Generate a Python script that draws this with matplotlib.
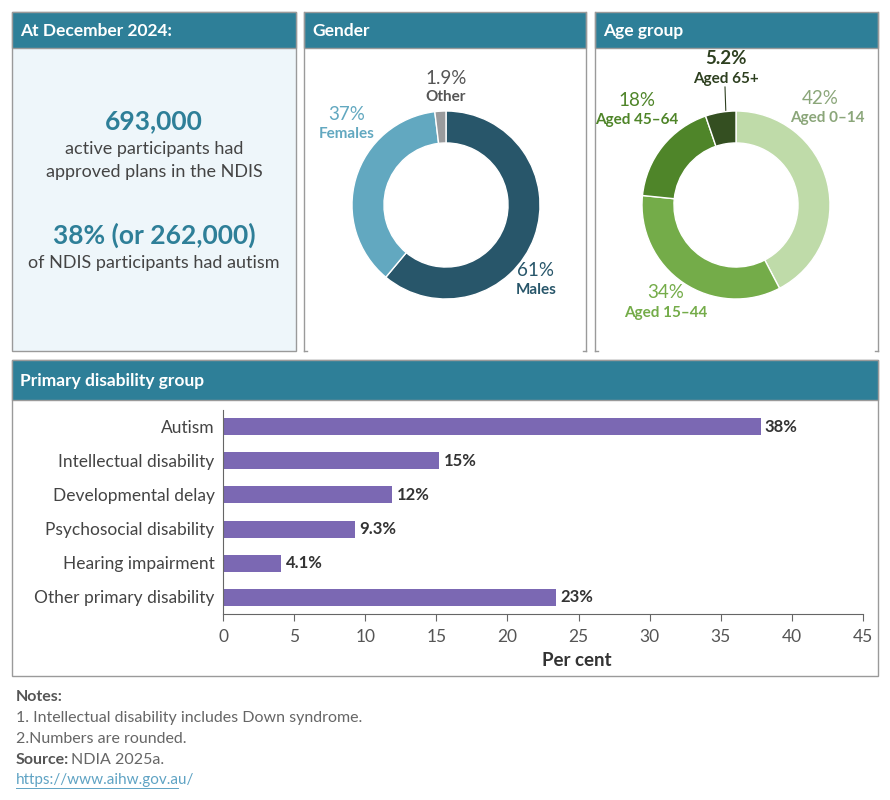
import matplotlib.pyplot as plt
from matplotlib.patches import Rectangle
import numpy as np

plt.rcParams['font.family'] = ['Lato', 'DejaVu Sans']

W, H = 890, 800

# data
gender_labels = ["Males", "Females", "Other"]
gender_values = [61, 37, 1.9]
gender_colors = ["#28566A", "#62A8C0", "#9A9B9D"]

age_labels = ["Aged 0–14", "Aged 15–44", "Aged 45–64", "Aged 65+"]
age_values = [42, 34, 18, 5.2]
age_colors = ["#BFDBA9", "#74AC49", "#4F8529", "#344F21"]

disab_groups = ["Autism", "Intellectual disability", "Developmental delay",
                "Psychosocial disability", "Hearing impairment", "Other primary disability"]
disab_values = [37.8, 15.2, 11.9, 9.3, 4.1, 23.4]
disab_text = ["38%", "15%", "12%", "9.3%", "4.1%", "23%"]

teal = "#2E7F98"
border = "#9A9A9A"
textc = "#444444"


def box(x0, y0, x1, y1):
    return [x0 / W, 1 - y1 / H, (x1 - x0) / W, (y1 - y0) / H]


fig = plt.figure(figsize=(W / 100, H / 100), dpi=100)
bg = fig.add_axes([0, 0, 1, 1])
bg.set_xlim(0, W)
bg.set_ylim(H, 0)
bg.axis("off")


def panel(x0, y0, x1, y1, title, hh=36, fill="white", corners=False):
    bg.add_patch(Rectangle((x0, y0), x1 - x0, y1 - y0, facecolor=fill, edgecolor="none"))
    if corners:
        bg.plot([x0, x0], [y0, y1], color=border, lw=1)
        bg.plot([x1, x1], [y0, y1], color=border, lw=1)
        bg.plot([x0, x0 + 3], [y1, y1], color=border, lw=1)
        bg.plot([x1 - 3, x1], [y1, y1], color=border, lw=1)
    else:
        bg.add_patch(Rectangle((x0, y0), x1 - x0, y1 - y0, facecolor="none",
                               edgecolor=border, lw=1))
    bg.add_patch(Rectangle((x0, y0), x1 - x0, hh, facecolor=teal, edgecolor=border, lw=1))
    bg.text(x0 + 8, y0 + hh / 2 + 1, title, color="white", fontsize=12.5,
            fontweight="bold", va="center", ha="left")


panel(12, 12, 296, 351, "At December 2024:", fill="#EEF6FA")
panel(304, 12, 586, 351, "Gender", corners=True)
panel(595, 12, 878, 351, "Age group", corners=True)
panel(12, 360, 878, 676, "Primary disability group", hh=40)

# panel 1 text
cx = 154
bg.text(cx, 121, "693,000", color=teal, fontsize=19, fontweight="bold", ha="center", va="center")
bg.text(cx, 149, "active participants had", color=textc, fontsize=13, ha="center", va="center")
bg.text(cx, 172, "approved plans in the NDIS", color=textc, fontsize=13, ha="center", va="center")
bg.text(cx, 235, "38% (or 262,000)", color=teal, fontsize=19, fontweight="bold", ha="center", va="center")
bg.text(cx, 263, "of NDIS participants had autism", color=textc, fontsize=13, ha="center", va="center")


def donut(cxp, cyp, r, values, colors):
    ax = fig.add_axes(box(cxp - r, cyp - r, cxp + r, cyp + r))
    wedges, _ = ax.pie(values, colors=colors, startangle=90, counterclock=False, radius=1,
                       wedgeprops=dict(width=0.34, edgecolor="white", linewidth=1))
    ax.set_xlim(-1, 1)
    ax.set_ylim(-1, 1)
    ax.set_aspect("equal")
    ax.axis("off")
    return ax, wedges


gax, gw = donut(446, 205, 94, gender_values, gender_colors)
aax, aw = donut(736, 205, 94, age_values, age_colors)

big, small = 13.5, 11

# gender labels
bg.text(446, 78, "1.9%", color="#555555", fontsize=big, ha="center", va="center")
bg.text(446, 97, "Other", color="#555555", fontsize=small, fontweight="bold", ha="center", va="center")
bg.text(347, 114, "37%", color=gender_colors[1], fontsize=big, ha="center", va="center")
bg.text(347, 134, "Females", color=gender_colors[1], fontsize=small, fontweight="bold", ha="center", va="center")
bg.text(536, 270, "61%", color=gender_colors[0], fontsize=big, ha="center", va="center")
bg.text(536, 290, "Males", color=gender_colors[0], fontsize=small, fontweight="bold", ha="center", va="center")

# age labels
bg.text(726, 59, "5.2%", color="#2E4020", fontsize=big, fontweight="bold", ha="center", va="center")
bg.text(726, 79, "Aged 65+", color="#2E4020", fontsize=small, fontweight="bold", ha="center", va="center")
# leader line for the small 65+ slice
bg.plot([726, 725], [117, 87], color="#2E4020", lw=0.8)
bg.text(637, 100, "18%", color=age_colors[2], fontsize=big, ha="center", va="center")
bg.text(637, 120, "Aged 45–64", color=age_colors[2], fontsize=small, fontweight="bold", ha="center", va="center")
bg.text(820, 98, "42%", color="#8BA67A", fontsize=big, ha="center", va="center")
bg.text(827, 118, "Aged 0–14", color="#8BA67A", fontsize=small, fontweight="bold", ha="center", va="center")
bg.text(666, 293, "34%", color=age_colors[1], fontsize=big, ha="center", va="center")
bg.text(666, 313, "Aged 15–44", color=age_colors[1], fontsize=small, fontweight="bold", ha="center", va="center")

# bar chart
bax = fig.add_axes(box(223, 410, 863, 614))
y = np.arange(len(disab_groups))
bax.barh(y, disab_values, height=0.5, color="#7B68B3")
bax.set_ylim(len(disab_groups) - 0.5, -0.5)
bax.set_xlim(0, 45)
bax.set_yticks(y)
bax.set_yticklabels(disab_groups, fontsize=12.5, color=textc)
bax.tick_params(axis="y", length=0, pad=6)
bax.set_xticks(range(0, 50, 5))
bax.tick_params(axis="x", length=5, color="#666666", labelsize=12.5, labelcolor="#555555", pad=6)
for s in ["top", "right"]:
    bax.spines[s].set_visible(False)
for s in ["left", "bottom"]:
    bax.spines[s].set_color("#666666")
bax.set_facecolor("none")
for yi, v, t in zip(y, disab_values, disab_text):
    bax.text(v + 0.3, yi, t, va="center", ha="left", fontsize=12, fontweight="bold", color="#333333")
bax.set_xlabel("Per cent", fontsize=13.5, fontweight="bold", color="#333333")
bax.xaxis.set_label_coords((577 - 223) / 640, -(661 - 614) / 204)
bax.xaxis.label.set_va("center")

# notes
fs = 11.5
bg.text(16, 697, "Notes:", fontsize=fs, fontweight="bold", color="#555555", va="center")
bg.text(16, 718, "1. Intellectual disability includes Down syndrome.", fontsize=fs, color="#666666", va="center")
bg.text(16, 739, "2.Numbers are rounded.", fontsize=fs, color="#666666", va="center")
bg.text(16, 760, "Source:", fontsize=fs, fontweight="bold", color="#555555", va="center")
bg.text(71, 760, "NDIA 2025a.", fontsize=fs, color="#666666", va="center")
bg.text(16, 780, "https://www.aihw.gov.au/", fontsize=11, color="#5FA3C4", va="center")
bg.plot([16, 178], [788, 788], color="#5FA3C4", lw=0.7)

fig.savefig("out.png", dpi=100)
